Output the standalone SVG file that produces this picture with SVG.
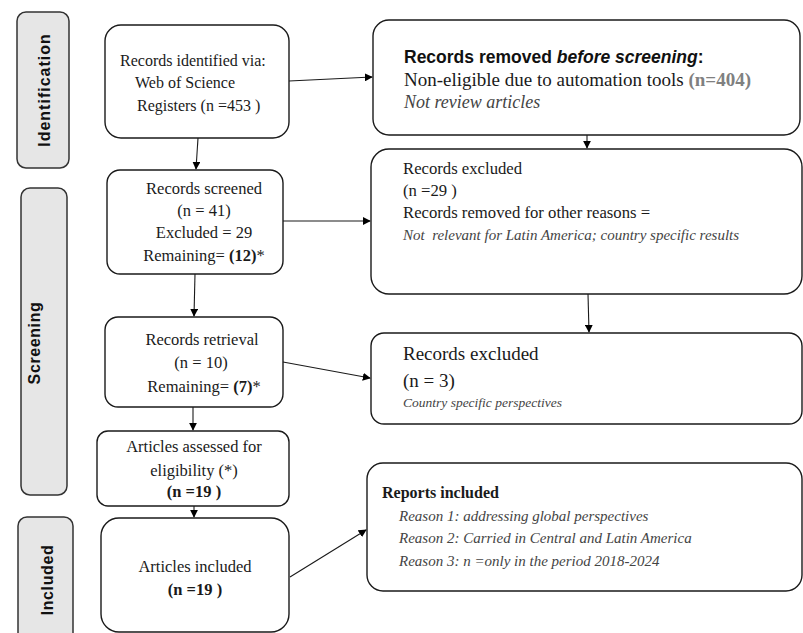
<svg xmlns="http://www.w3.org/2000/svg" width="803" height="633" viewBox="0 0 803 633">
  <defs>
    <marker id="arrow" viewBox="0 0 10 10" refX="9" refY="5" markerWidth="8" markerHeight="8" markerUnits="userSpaceOnUse" orient="auto">
      <path d="M0,0 L10,5 L0,10 z" fill="#000"/>
    </marker>
    <style>
      .phase { fill: #e6e6e6; stroke: #333; stroke-width: 1.5; }
      .phase-label { font-family: "Liberation Sans", Arial, sans-serif; font-weight: bold; font-size: 16px; fill: #111; }
      .box { fill: #fff; stroke: #1a1a1a; stroke-width: 1.4; }
      .t { font-family: "Liberation Serif", "Times New Roman", serif; fill: #1a1a1a; }
      .c { text-anchor: middle; }
      .it { font-style: italic; fill: #444; }
      .b { font-weight: bold; }
      .edge { fill: none; stroke: #1a1a1a; stroke-width: 1.1; marker-end: url(#arrow); }
    </style>
  </defs>
  <rect width="803" height="633" fill="#fff"/>

  <!-- Phase bands -->
  <g id="phase-identification">
    <rect class="phase" x="17" y="12" width="52" height="156" rx="9"/>
    <text class="phase-label" transform="translate(50,90) rotate(-90)" text-anchor="middle" letter-spacing="1">Identification</text>
  </g>
  <g id="phase-screening">
    <rect class="phase" x="21" y="188" width="46" height="307" rx="9"/>
    <text class="phase-label" transform="translate(39.5,343) rotate(-90)" text-anchor="middle" letter-spacing="0.6">Screening</text>
  </g>
  <g id="phase-included">
    <rect class="phase" x="18" y="517" width="55" height="130" rx="9"/>
    <text class="phase-label" transform="translate(53,580) rotate(-90)" text-anchor="middle" letter-spacing="0.6">Included</text>
  </g>

  <!-- Left column -->
  <g id="records-identified">
    <rect class="box" x="105" y="25" width="184" height="113" rx="16"/>
    <text class="t" font-size="16" x="120" y="66">Records identified via:</text>
    <text class="t" font-size="16" x="135" y="88">Web of Science</text>
    <text class="t" font-size="16" x="137" y="111">Registers (n =453 )</text>
  </g>
  <g id="records-screened">
    <rect class="box" x="107" y="170" width="176" height="104" rx="13"/>
    <text class="t c" font-size="16.5" x="204" y="194">Records screened</text>
    <text class="t c" font-size="16.5" x="204" y="216">(n = 41)</text>
    <text class="t c" font-size="16.5" x="204" y="238">Excluded = 29</text>
    <text class="t c" font-size="16.5" x="204" y="261">Remaining= <tspan class="b">(12)</tspan>*</text>
  </g>
  <g id="records-retrieval">
    <rect class="box" x="105" y="317" width="178" height="90" rx="13"/>
    <text class="t c" font-size="16.5" x="202" y="345">Records retrieval</text>
    <text class="t c" font-size="16.5" x="201" y="368">(n = 10)</text>
    <text class="t c" font-size="16.5" x="204" y="392">Remaining= <tspan class="b">(7)</tspan>*</text>
  </g>
  <g id="articles-assessed">
    <rect class="box" x="97" y="431" width="192" height="75" rx="11"/>
    <text class="t c" font-size="16.5" x="194" y="452">Articles assessed for</text>
    <text class="t c" font-size="16.5" x="194" y="476">eligibility (*)</text>
    <text class="t c b" font-size="16.5" x="194" y="497">(n =19 )</text>
  </g>
  <g id="articles-included">
    <rect class="box" x="101" y="518" width="188" height="114" rx="18"/>
    <text class="t c" font-size="16.5" x="195" y="572">Articles included</text>
    <text class="t c b" font-size="16.5" x="195" y="595">(n =19 )</text>
  </g>

  <!-- Right column -->
  <g id="removed-before-screening">
    <rect class="box" x="373" y="20" width="427" height="115" rx="16"/>
    <text font-family="'Liberation Sans', Arial, sans-serif" font-weight="bold" font-size="17.5" fill="#111" x="404" y="63">Records removed <tspan font-style="italic">before screening</tspan>:</text>
    <text class="t" font-size="19" x="404" y="86">Non-eligible due to automation tools <tspan fill="#808080" font-weight="bold">(n=404)</tspan></text>
    <text class="t it" font-size="18" x="404" y="108">Not review articles</text>
  </g>
  <g id="records-excluded-screening">
    <rect class="box" x="371" y="149" width="431" height="145" rx="18"/>
    <text class="t" font-size="16.7" x="403" y="174">Records excluded</text>
    <text class="t" font-size="16.7" x="403" y="196">(n =29 )</text>
    <text class="t" font-size="16.7" x="403" y="218">Records removed for other reasons =</text>
    <text class="t it" font-size="15" x="403" y="240" xml:space="preserve">Not  relevant for Latin America; country specific results</text>
  </g>
  <g id="records-excluded-retrieval">
    <rect class="box" x="371" y="333" width="431" height="91" rx="13"/>
    <text class="t" font-size="19" x="403" y="360">Records excluded</text>
    <text class="t" font-size="19" x="403" y="387">(n = 3)</text>
    <text class="t it" font-size="13.5" x="403" y="407">Country specific perspectives</text>
  </g>
  <g id="reports-included">
    <rect class="box" x="367" y="463" width="435" height="128" rx="16"/>
    <text class="t b" font-size="16" x="382" y="498">Reports included</text>
    <text class="t it" font-size="15" x="399" y="521">Reason 1: addressing global perspectives</text>
    <text class="t it" font-size="15" x="399" y="543">Reason 2: Carried in Central and Latin America</text>
    <text class="t it" font-size="15" x="399" y="566">Reason 3: n =only in the period 2018-2024</text>
  </g>

  <!-- Connectors -->
  <g id="connectors">
    <path class="edge" d="M289,81 L372,77"/>
    <path class="edge" d="M587,135 L587,148"/>
    <path class="edge" d="M198,138 L196,169"/>
    <path class="edge" d="M283,221 L370,221"/>
    <path class="edge" d="M588,294 L589,332"/>
    <path class="edge" d="M195,274 L194,316"/>
    <path class="edge" d="M283,362 L370,378"/>
    <path class="edge" d="M193,407 L193,430"/>
    <path class="edge" d="M194,506 L194,517"/>
    <path class="edge" d="M290,577 L366,530"/>
  </g>
</svg>
